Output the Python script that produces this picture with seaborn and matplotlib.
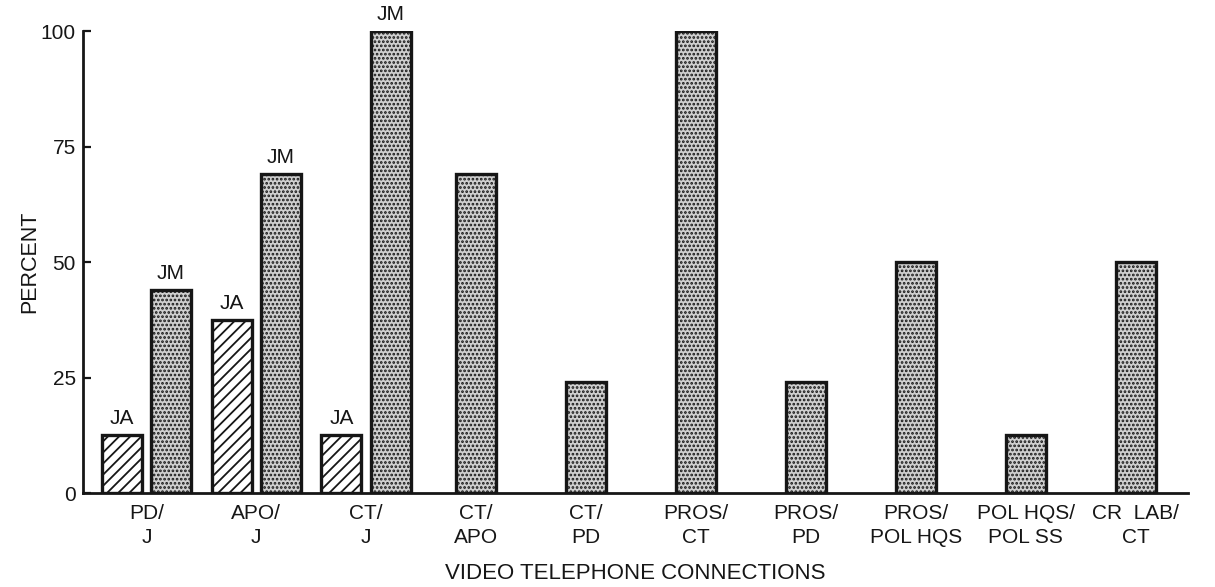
import pandas as pd
import matplotlib
matplotlib.use('Agg')
import matplotlib.pyplot as plt
import seaborn as sns

sns.set_style('ticks')
plt.rcParams['font.family'] = ['Liberation Sans', 'DejaVu Sans']
plt.rcParams['hatch.linewidth'] = 1.3

# categories on the x axis (two-line labels as printed)
connections = ['PD/\nJ', 'APO/\nJ', 'CT/\nJ', 'CT/\nAPO', 'CT/\nPD', 'PROS/\nCT',
               'PROS/\nPD', 'PROS/\nPOL HQS', 'POL HQS/\nPOL SS', 'CR  LAB/\nCT']

# paired bars (first three connections)
pair_connections = ['PD/\nJ', 'APO/\nJ', 'CT/\nJ']
ja_values = [12.5, 37.5, 12.5]
jm_values = [44, 69, 100]

# single bars (remaining connections)
single_connections = ['CT/\nAPO', 'CT/\nPD', 'PROS/\nCT', 'PROS/\nPD',
                      'PROS/\nPOL HQS', 'POL HQS/\nPOL SS', 'CR  LAB/\nCT']
single_values = [69, 24, 100, 24, 50, 12.5, 50]

y_ticks = [0, 25, 50, 75, 100]

pairs = pd.DataFrame({
    'connection': pair_connections * 2,
    'group': ['JA'] * 3 + ['JM'] * 3,
    'percent': ja_values + jm_values,
})
singles = pd.DataFrame({'connection': single_connections, 'percent': single_values})

ink = '#161616'
stipple = '#cfcfcf'

fig = plt.figure(figsize=(12.15, 5.87), dpi=100)
ax = fig.add_axes([0.068, 0.160, 0.910, 0.787])

sns.barplot(data=pairs, x='connection', y='percent', hue='group', order=connections,
            hue_order=['JA', 'JM'], palette={'JA': 'white', 'JM': stipple},
            width=0.9, gap=0.19, legend=False, ax=ax)
n_pair = len(ax.patches)
sns.barplot(data=singles, x='connection', y='percent', order=connections,
            color=stipple, width=0.364, ax=ax)

for i, p in enumerate(ax.patches):
    p.set_edgecolor(ink)
    p.set_linewidth(2.4)
    if i < n_pair and p.get_facecolor()[0] > 0.95:
        p.set_hatch('///')
    else:
        p.set_hatch('....')
        p.set_facecolor(stipple)

# "JA" / "JM" labels above the paired bars
for cont, lab in zip(ax.containers[:2], ['JA', 'JM']):
    ax.bar_label(cont, labels=[lab] * len(cont), padding=5, fontsize=15, color=ink)

ax.set_xlim(-0.58, 9.48)
ax.set_ylim(0, 100)
ax.set_yticks(y_ticks)
ax.set_yticklabels([str(v) for v in y_ticks], fontsize=15, color=ink)
ax.set_xticks(range(len(connections)))
ax.set_xticklabels(connections, fontsize=15, color=ink, linespacing=1.3)
ax.tick_params(axis='y', direction='in', length=6, width=1.6, pad=5, color=ink)
ax.tick_params(axis='x', length=0, pad=8)

ax.set_xlabel('VIDEO TELEPHONE CONNECTIONS', fontsize=16, color=ink)
ax.set_ylabel('PERCENT', fontsize=15.5, color=ink)
ax.xaxis.set_label_coords(0.5, -0.152)
ax.yaxis.set_label_coords(-0.038, 0.5)

sns.despine(ax=ax)
for side in ['left', 'bottom']:
    ax.spines[side].set_linewidth(2)
    ax.spines[side].set_color(ink)

fig.savefig('out.png', dpi=100, facecolor='white')
